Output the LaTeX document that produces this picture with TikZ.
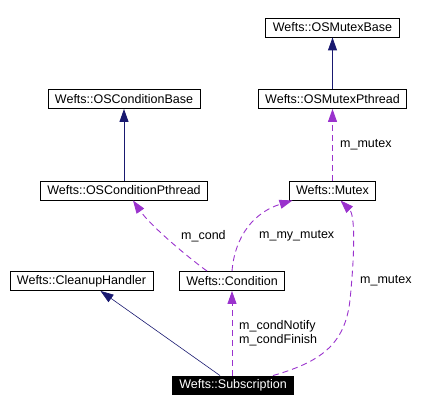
\documentclass[tikz,border=0pt]{standalone}
\usepackage{fontspec}
\setmainfont{Liberation Sans}
\usetikzlibrary{arrows.meta}
\definecolor{navyedge}{HTML}{191970}
\definecolor{purpleedge}{HTML}{9A32CD}
\begin{document}
\begin{tikzpicture}[x=1pt,y=-1pt,
  cls/.style={draw=black,line width=0.9pt,fill=white,inner xsep=7pt,inner ysep=0pt,minimum height=19pt,font=\fontsize{12.5}{14}\selectfont},
  focus/.style={cls,fill=black,text=white,minimum height=18pt},
  lbl/.style={font=\fontsize{12.5}{14}\selectfont,inner sep=0pt},
  inherit/.style={draw=navyedge,line width=0.9pt,-{Triangle[length=13pt,width=9pt]}},
  uses/.style={draw=purpleedge,line width=0.9pt,dash pattern=on 6pt off 4pt,-{Triangle[length=13pt,width=9pt,fill=purpleedge]}}
]
\useasboundingbox (0,0) rectangle (436,412);
\node[cls] (mbase) at (332.5,27.5) {Wefts::OSMutexBase};
\node[cls] (cbase) at (124,99) {Wefts::OSConditionBase};
\node[cls] (mpth) at (332.5,99) {Wefts::OSMutexPthread};
\node[cls] (cpth) at (124,190.5) {Wefts::OSConditionPthread};
\node[cls] (mutex) at (332.5,190.5) {Wefts::Mutex};
\node[cls] (clean) at (81.5,281) {Wefts::CleanupHandler};
\node[cls] (cond) at (232,281) {Wefts::Condition};
\node[focus] (sub) at (233,385) {Wefts::Subscription};

\draw[inherit] (mpth.north) -- (mbase.south);
\draw[inherit] (cpth.north) -- (cbase.south);
\draw[uses] (mutex.north) -- (mpth.south);
\node[lbl,anchor=west] (l1) at (340,145) {m\_mutex};

\draw[uses] ([xshift=-25pt]cond.north) .. controls (185,255) and (150,225) .. ([xshift=9pt]cpth.south);
\node[lbl,anchor=west] (l2) at (181,236) {m\_cond};

\draw[uses] (cond.north) .. controls (235,235) and (255,212) .. ([xshift=-40pt]mutex.south);
\node[lbl,anchor=west] (l3) at (259,236) {m\_my\_mutex};

\draw[uses] ([xshift=40pt]sub.north) .. controls (320,362) and (345,345) .. (350,300) .. controls (355,250) and (355,215) .. ([xshift=8pt]mutex.south);
\node[lbl,anchor=west] (l4) at (360,281) {m\_mutex};

\draw[draw=navyedge,line width=0.6pt,-{Triangle[length=13pt,width=9pt]}] ([xshift=-13pt]sub.north) -- ([xshift=19pt]clean.south);

\draw[uses] ([xshift=-1pt]sub.north) -- (cond.south);
\node[lbl,anchor=west,align=left] (l5) at (239,333.5) {m\_condNotify\\m\_condFinish};
\end{tikzpicture}
\end{document}
